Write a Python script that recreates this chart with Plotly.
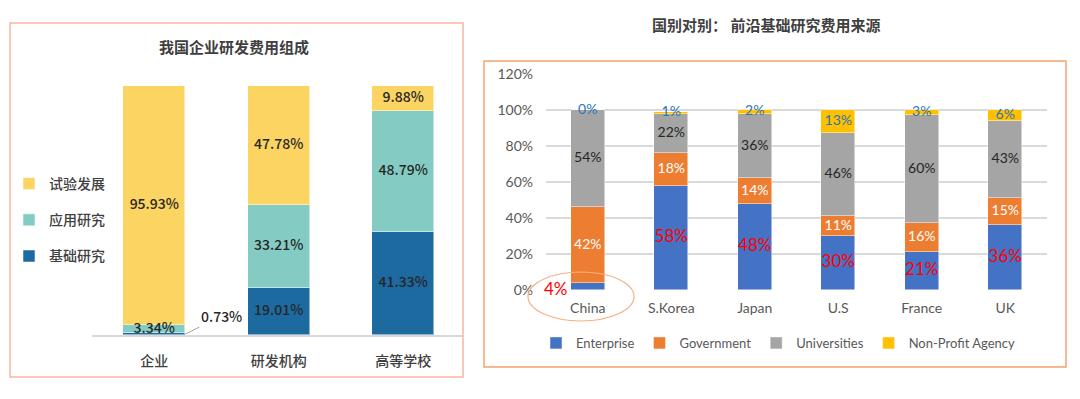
import plotly.graph_objects as go
import numpy as np

# ---------------- data ----------------
left_categories = ['企业', '研发机构', '高等学校']
basic_research = [0.73, 19.01, 41.33]
applied_research = [3.34, 33.21, 48.79]
experimental_dev = [95.93, 47.78, 9.88]
left_names = ['基础研究', '应用研究', '试验发展']

countries = ['China', 'S.Korea', 'Japan', 'U.S', 'France', 'UK']
enterprise = [4, 58, 48, 30, 21, 36]
government = [42, 18, 14, 11, 16, 15]
universities = [54, 22, 36, 46, 60, 43]
nonprofit = [0, 1, 2, 13, 3, 6]
right_names = ['Enterprise', 'Government', 'Universities', 'Non-Profit Agency']

left_title = '我国企业研发费用组成'
right_title = '国别对别： 前沿基础研究费用来源'
y_ticks = [0, 20, 40, 60, 80, 100, 120]

# ---------------- style ----------------
CJK = 'Noto Sans CJK SC'
LAT = 'Lato, Noto Sans CJK SC'
PAGE_OFFSET = 8          # default body margin of the html page
W, H = 1080 - PAGE_OFFSET, 399 - PAGE_OFFSET
left_colors = ['#1D6AA1', '#84CCC3', '#FCD462']
right_colors = ['#4472C4', '#ED7D31', '#A5A5A5', '#FFC000']
right_label_colors = ['#FF0000', '#FFFFFF', '#262626', '#2E75B6']
right_label_sizes = [17, 14, 14, 14]

def px_x(p):
    return (p - PAGE_OFFSET) / W

def px_y(p):
    return 1 - (p - PAGE_OFFSET) / H

fig = go.Figure()

# ---------------- left chart ----------------
left_series = [basic_research, applied_research, experimental_dev]
for k, (name, vals, col) in enumerate(zip(left_names, left_series, left_colors)):
    fig.add_trace(go.Bar(
        x=left_categories, y=vals, name=name, width=0.5,
        marker=dict(color=col, line=dict(color='rgba(255,255,255,0.5)', width=1)),
        xaxis='x', yaxis='y', legend='legend2', legendgroup=name,
        legendrank=10 - k, hoverinfo='skip'))

cum = np.zeros(len(left_categories))
for si, vals in enumerate(left_series):
    vals = np.array(vals)
    mids = cum + vals / 2
    xs, ys, ts = [], [], []
    for i, v in enumerate(vals):
        if v < 1:
            continue
        xs.append(left_categories[i]); ys.append(mids[i]); ts.append(f'{v:.2f}%')
    fig.add_trace(go.Scatter(
        x=xs, y=ys, text=ts, mode='text', showlegend=False,
        textfont=dict(family=CJK, size=14, color='#262626', weight=500),
        cliponaxis=False, xaxis='x', yaxis='y', hoverinfo='skip'))
    cum = cum + vals

# small-value label with leader line
fig.add_annotation(
    x=0.25, y=basic_research[0] / 2, xref='x', yref='y',
    text=f'{basic_research[0]:.2f}%', showarrow=True, arrowhead=0,
    arrowcolor='#A6A6A6', arrowwidth=1, ax=36, ay=-18,
    font=dict(family=CJK, size=14, color='#262626', weight=500))

# ---------------- right chart ----------------
right_series = [enterprise, government, universities, nonprofit]
for name, vals, col in zip(right_names, right_series, right_colors):
    fig.add_trace(go.Bar(
        x=countries, y=vals, name=name, width=0.41,
        marker=dict(color=col, line=dict(color='rgba(255,255,255,0.6)', width=0.8)),
        xaxis='x2', yaxis='y2', legend='legend', hoverinfo='skip'))

cum = np.zeros(len(countries))
for si, vals in enumerate(right_series):
    vals = np.array(vals)
    mids = cum + vals / 2
    xs, ys, ts = [], [], []
    for i, v in enumerate(vals):
        if si == 0 and v < 8:
            # small enterprise share: label to the left of the bar
            fig.add_annotation(
                x=countries[i], y=mids[i], xref='x2', yref='y2',
                text=f'{v}%', showarrow=False, xshift=-32, yshift=-2,
                xanchor='center', yanchor='middle',
                font=dict(family=LAT, size=17, color=right_label_colors[0]))
            continue
        xs.append(countries[i]); ys.append(mids[i]); ts.append(f'{v}%')
    fig.add_trace(go.Scatter(
        x=xs, y=ys, text=ts, mode='text', showlegend=False,
        textfont=dict(family=LAT, size=right_label_sizes[si], color=right_label_colors[si]),
        cliponaxis=False, xaxis='x2', yaxis='y2', hoverinfo='skip'))
    cum = cum + vals

# ---------------- decorations ----------------
shapes = [
    dict(type='rect', xref='paper', yref='paper',
         x0=px_x(10), x1=px_x(463), y0=px_y(377), y1=px_y(23),
         line=dict(color='#F7B6A5', width=1.5), layer='above'),
    dict(type='rect', xref='paper', yref='paper',
         x0=px_x(484), x1=px_x(1066), y0=px_y(367), y1=px_y(61),
         line=dict(color='#F4A46E', width=1.5), layer='above'),
    dict(type='circle', xref='paper', yref='paper',
         x0=px_x(528), x1=px_x(634), y0=px_y(321), y1=px_y(272),
         line=dict(color='#F4B183', width=1.2), layer='above'),
]

annotations = [
    dict(text=f'<b>{left_title}</b>', xref='paper', yref='paper',
         x=px_x(234), y=px_y(46), showarrow=False,
         xanchor='center', yanchor='middle',
         font=dict(family=CJK, size=15, color='#404040')),
    dict(text=f'<b>{right_title}</b>', xref='paper', yref='paper',
         x=px_x(766), y=px_y(25), showarrow=False,
         xanchor='center', yanchor='middle',
         font=dict(family=CJK, size=15, color='#404040')),
]
for a in annotations:
    fig.add_annotation(**a)

fig.update_layout(
    width=W, height=H,
    margin=dict(l=0, r=0, t=0, b=0, pad=0, autoexpand=False),
    paper_bgcolor='white', plot_bgcolor='white',
    barmode='stack', bargap=0,
    shapes=shapes,
    xaxis=dict(domain=[px_x(92), px_x(463)], range=[-0.5, 2.48],
               showline=True, linecolor='#D9D9D9', linewidth=2,
               showgrid=False, ticks='', ticklabelstandoff=12, automargin=False,
               tickfont=dict(family=CJK, size=14, color='#404040', weight=500),
               fixedrange=True),
    yaxis=dict(domain=[px_y(335), px_y(86)], range=[0, 100], visible=False,
               automargin=False, fixedrange=True),
    xaxis2=dict(domain=[px_x(546), px_x(1047)], range=[-0.5, 5.5], anchor='y2',
                showline=False, showgrid=False, ticks='', ticklabelstandoff=8,
                automargin=False,
                tickfont=dict(family=LAT, size=14, color='#595959'),
                fixedrange=True),
    yaxis2=dict(domain=[px_y(290), px_y(74)], range=[0, 120], anchor='x2',
                tickvals=y_ticks, ticktext=[f'{t}%' for t in y_ticks],
                showgrid=True, gridcolor='#D9D9D9', gridwidth=1.5,
                zeroline=False, showline=False, ticks='', ticklabelstandoff=12,
                automargin=False,
                tickfont=dict(family=LAT, size=14, color='#595959'),
                fixedrange=True),
    legend=dict(orientation='h', x=px_x(778), xanchor='center',
                y=px_y(343), yanchor='middle', traceorder='normal',
                font=dict(family=LAT, size=13, color='#595959'),
                bgcolor='rgba(0,0,0,0)', itemclick=False, itemdoubleclick=False),
    legend2=dict(orientation='v', x=px_x(9), xanchor='left',
                 y=px_y(168), yanchor='top', traceorder='grouped',
                 tracegroupgap=15,
                 font=dict(family=CJK, size=14, color='#404040', weight=500),
                 bgcolor='rgba(0,0,0,0)', itemclick=False, itemdoubleclick=False),
    showlegend=True,
)

fig.write_html('out.html')
